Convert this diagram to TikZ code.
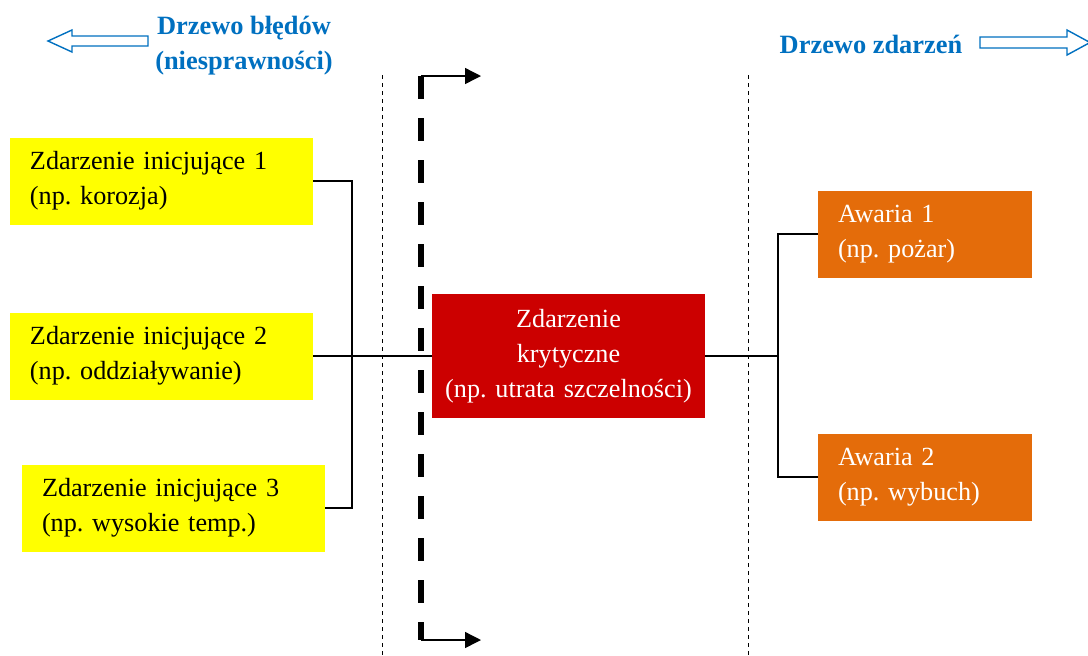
\documentclass[tikz,border=0pt]{standalone}
\usepackage{fontspec}
\setmainfont{Liberation Serif}
\usetikzlibrary{arrows.meta}
\definecolor{ttlblue}{RGB}{0,112,192}
\definecolor{boxyellow}{RGB}{255,255,0}
\definecolor{boxred}{RGB}{204,0,0}
\definecolor{boxorange}{RGB}{228,108,10}
\tikzset{
  txt/.style={font=\fontsize{13.1pt}{17.5pt}\selectfont\frenchspacing},
  ybox/.style={txt, rectangle, fill=boxyellow, minimum height=43.5pt, text width=131.5pt, inner xsep=10pt, inner ysep=0pt, align=left},
  obox/.style={txt, rectangle, fill=boxorange, text=white, minimum height=43.5pt, text width=87pt, inner xsep=10pt, inner ysep=0pt, align=left},
  rbox/.style={txt, rectangle, fill=boxred, text=white, minimum height=62pt, text width=130pt, inner xsep=3.25pt, inner ysep=0pt, align=center},
  ttl/.style={font=\fontsize{13.2pt}{17.5pt}\selectfont\bfseries, text=ttlblue, align=center, inner sep=0pt},
  conn/.style={line width=0.7pt, black},
  sepline/.style={line width=0.5pt, black, dash pattern=on 2pt off 2pt},
  thickdash/.style={line width=2.6pt, black, dash pattern=on 11.5pt off 9.5pt},
  thinarrow/.style={line width=0.7pt, black, -{Triangle[length=8pt,width=8pt]}},
  hollow/.style={draw=ttlblue, line width=0.7pt, fill=white}
}
\begin{document}
\begin{tikzpicture}[x=0.5pt,y=-0.5pt]
\useasboundingbox (0,0) rectangle (1088,655);

% titles
\node[ttl] (tl) at (244,46) {Drzewo błędów\\(niesprawności)};
\node[ttl] (tr) at (871,44) {Drzewo zdarzeń};

% hollow arrows
\draw[hollow] (148,36) -- (72,36) -- (72,30) -- (48,41) -- (72,52) -- (72,46) -- (148,46) -- cycle;
\draw[hollow] (980,37) -- (1067,37) -- (1067,30) -- (1090,42.5) -- (1067,55) -- (1067,48) -- (980,48) -- cycle;

% separator lines
\coordinate (s1t) at (382,75);
\coordinate (s1b) at (382,655);
\coordinate (s2t) at (748,75);
\coordinate (s2b) at (748,655);
\draw[sepline] (s1t) -- (s1b);
\draw[sepline] (s2t) -- (s2b);

% thick dashed barrier with arrows
\coordinate (dt) at (421,76);
\coordinate (db) at (421,640);
\coordinate (at) at (481,76);
\coordinate (ab) at (481,640);
\draw[thickdash] (dt) -- (db);
\draw[thinarrow] (dt) -- (at);
\draw[thinarrow] (db) -- (ab);

% nodes
\node[ybox] (y1) at (161.5,181) {Zdarzenie inicjujące 1\\(np. korozja)};
\node[ybox] (y2) at (161.5,356) {Zdarzenie inicjujące 2\\(np. oddziaływanie)};
\node[ybox] (y3) at (173.5,508) {Zdarzenie inicjujące 3\\(np. wysokie temp.)};
\node[rbox] (r) at (568.5,356) {Zdarzenie\\krytyczne\\(np. utrata szczelności)};
\node[obox] (o1) at (925,234) {Awaria 1\\(np. pożar)};
\node[obox] (o2) at (925,477) {Awaria 2\\(np. wybuch)};

% connectors
\coordinate (jl) at (352,356);
\coordinate (jr) at (778,356);
\draw[conn] (y1.east) -| (jl) |- (y3.east);
\draw[conn] (y2.east) -- (r.west);
\draw[conn] (r.east) -- (jr);
\draw[conn] (o1.west) -| (jr) |- (o2.west);
\end{tikzpicture}
\end{document}
